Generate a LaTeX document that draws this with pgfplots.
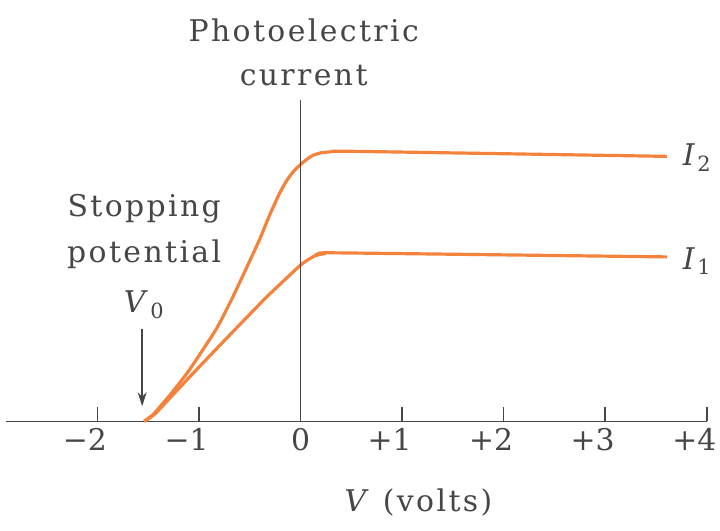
\documentclass[border=0pt]{standalone}
\usepackage{fontspec}
\setmainfont{DejaVu Serif}[LetterSpace=8]
\usepackage{pgfplots}
\pgfplotsset{compat=1.18}
\usetikzlibrary{arrows.meta}
\definecolor{curve}{RGB}{243,130,60}
\definecolor{ink}{RGB}{70,70,70}
\newcommand{\lbl}{\fontsize{15}{18}\selectfont}
\begin{document}
\begin{tikzpicture}
\begin{axis}[
    x=51pt, y=51pt,
    xmin=-2.9, xmax=4, ymin=-0.3, ymax=3.2,
    axis x line=middle, axis y line=none,
    x axis line style={-, line width=0.8pt, ink},
    xtick={-2,-1,0,1,2,3,4},
    xticklabels={\llap{−}2,\llap{−}1,0,\llap{+}1,\llap{+}2,\llap{+}3,\llap{+}4},
    hide obscured x ticks=false,
    tick align=center, major tick length=7pt,
    tick style={ink, line width=0.8pt, yshift=3.5pt},
    xticklabel style={font=\lbl, text=ink, yshift=3.5pt, inner xsep=0pt},
    clip=false,
]
% I2 (higher intensity)
\addplot[curve, line width=1.6pt, smooth, tension=0.3] coordinates {
    (-1.54,0) (-1.45,0.07) (-1.38,0.15) (-1.27,0.28) (-1.1,0.5) (-0.83,0.91)
    (-0.67,1.22) (-0.51,1.56) (-0.4,1.8) (-0.31,2.02) (-0.22,2.22) (-0.15,2.35)
    (-0.08,2.45) (0,2.53) (0.06,2.58) (0.12,2.62) (0.2,2.645) (0.3,2.655)
    (0.5,2.66) (3.61,2.61)
};
% I1
\addplot[curve, line width=1.6pt, smooth, tension=0.3] coordinates {
    (-1.54,0) (-1.45,0.06) (-1.38,0.13) (-1.25,0.27) (-1.1,0.43) (-0.9,0.64)
    (-0.67,0.88) (-0.34,1.22) (-0.15,1.4) (0,1.54) (0.07,1.59) (0.14,1.63)
    (0.22,1.65) (0.35,1.66) (3.61,1.62)
};
\draw[ink, line width=0.8pt] (axis cs:0,0) -- (axis cs:0,3.17);
\draw[ink, line width=0.7pt, -{Stealth[length=7pt,width=4.5pt]}] (axis cs:-1.56,0.91) -- (axis cs:-1.56,0.15);
\node[text=ink, font=\lbl] at (axis cs:0.03,3.85) {Photoelectric};
\node[text=ink, font=\lbl] at (axis cs:0.03,3.41) {current};
\node[text=ink, font=\lbl] at (axis cs:-1.54,2.09) {Stopping};
\node[text=ink, font=\lbl] at (axis cs:-1.54,1.65) {potential};
\node[text=ink, font=\lbl] at (axis cs:-1.54,1.15) {\textit{V}\textsubscript{0}};
\node[text=ink, font=\lbl, anchor=west, inner xsep=0pt] at (axis cs:3.76,2.6) {\textit{I}\textsubscript{2}};
\node[text=ink, font=\lbl, anchor=west, inner xsep=0pt] at (axis cs:3.76,1.58) {\textit{I}\textsubscript{1}};
\node[text=ink, font=\lbl] at (axis cs:1.16,-0.8) {\textit{V} (volts)};
% frame of the whole picture (invisible)
\path (axis cs:-2.96,-1.07) rectangle (axis cs:4.13,4.15);
\end{axis}
\end{tikzpicture}
\end{document}
